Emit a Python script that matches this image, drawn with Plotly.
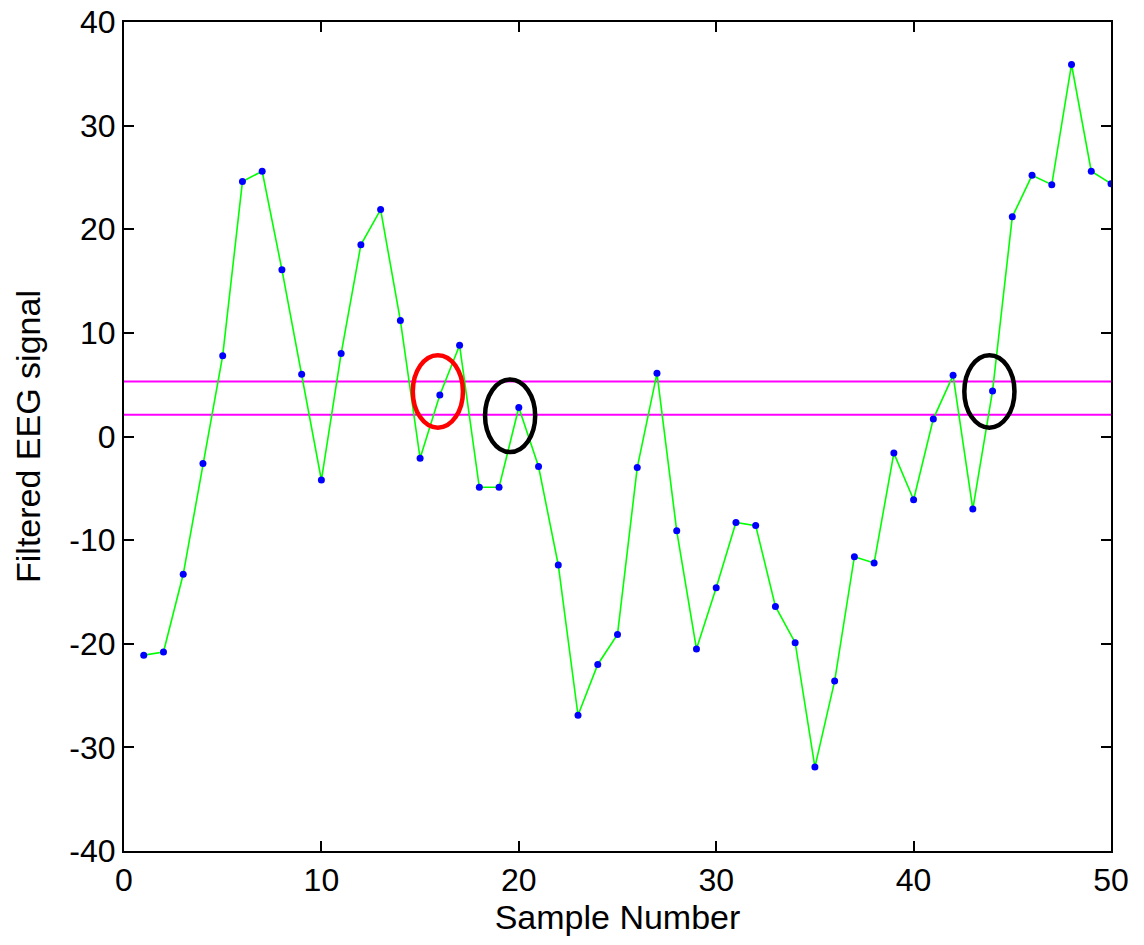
import plotly.graph_objects as go

# Filtered EEG samples
samples = list(range(1, 51))
eeg = [
    -21.1, -20.8, -13.3, -2.6, 7.8, 24.6, 25.6, 16.1, 6.0, -4.2,
    8.0, 18.5, 21.9, 11.2, -2.1, 4.0, 8.8, -4.9, -4.9, 2.8,
    -2.9, -12.4, -26.9, -22.0, -19.1, -3.0, 6.1, -9.1, -20.5, -14.6,
    -8.3, -8.6, -16.4, -19.9, -31.9, -23.6, -11.6, -12.2, -1.6, -6.1,
    1.7, 5.9, -7.0, 4.4, 21.2, 25.2, 24.3, 35.9, 25.6, 24.4,
]

# threshold band
thresholds = [5.3, 2.1]

# highlighted samples: centre (x, y) and colour of the ring
ring_x = [15.9, 19.56, 43.84]
ring_y = [4.35, 2.0, 4.35]
ring_colors = ["#ff0000", "#000000", "#000000"]
ring_half_w = 1.27
ring_half_h = 3.5

# tick labels (plain hyphen minus, as in the original)
x_ticks = [0, 10, 20, 30, 40, 50]
y_ticks = [-40, -30, -20, -10, 0, 10, 20, 30, 40]
y_ticktext = ["-40", "-30", "-20", "-10", "0", "10", "20", "30", "40"]

FONT = "Liberation Sans, Arial, sans-serif"

fig = go.Figure()
fig.add_trace(
    go.Scatter(
        x=samples,
        y=eeg,
        mode="lines+markers",
        line=dict(color="#00ff00", width=1.6),
        marker=dict(color="#0000ff", size=7),
        showlegend=False,
    )
)

for t in thresholds:
    fig.add_hline(y=t, line=dict(color="#ff00ff", width=2), layer="below")

for cx, cy, c in zip(ring_x, ring_y, ring_colors):
    fig.add_shape(
        type="circle",
        xref="x",
        yref="y",
        x0=cx - ring_half_w,
        x1=cx + ring_half_w,
        y0=cy - ring_half_h,
        y1=cy + ring_half_h,
        line=dict(color=c, width=4.5),
    )

axis_style = dict(
    showgrid=False,
    zeroline=False,
    showline=True,
    linecolor="black",
    linewidth=2,
    mirror="ticks",
    ticks="inside",
    ticklen=10,
    tickwidth=2,
    tickcolor="black",
    automargin=False,
    ticklabeloverflow="allow",
    tickfont=dict(family=FONT, size=32, color="black"),
)

fig.update_xaxes(
    range=[0, 50],
    tickvals=x_ticks,
    title=dict(text="Sample Number", font=dict(family=FONT, size=34, color="black"), standoff=2),
    **axis_style,
)
fig.update_yaxes(
    range=[-40, 40],
    tickvals=y_ticks,
    ticktext=y_ticktext,
    title=dict(text="Filtered EEG signal", font=dict(family=FONT, size=34, color="black"), standoff=18),
    **axis_style,
)

fig.update_layout(
    width=1144,
    height=945,
    margin=dict(l=116, r=41, t=14, b=102),
    plot_bgcolor="white",
    paper_bgcolor="white",
)

fig.write_html("out.html")
